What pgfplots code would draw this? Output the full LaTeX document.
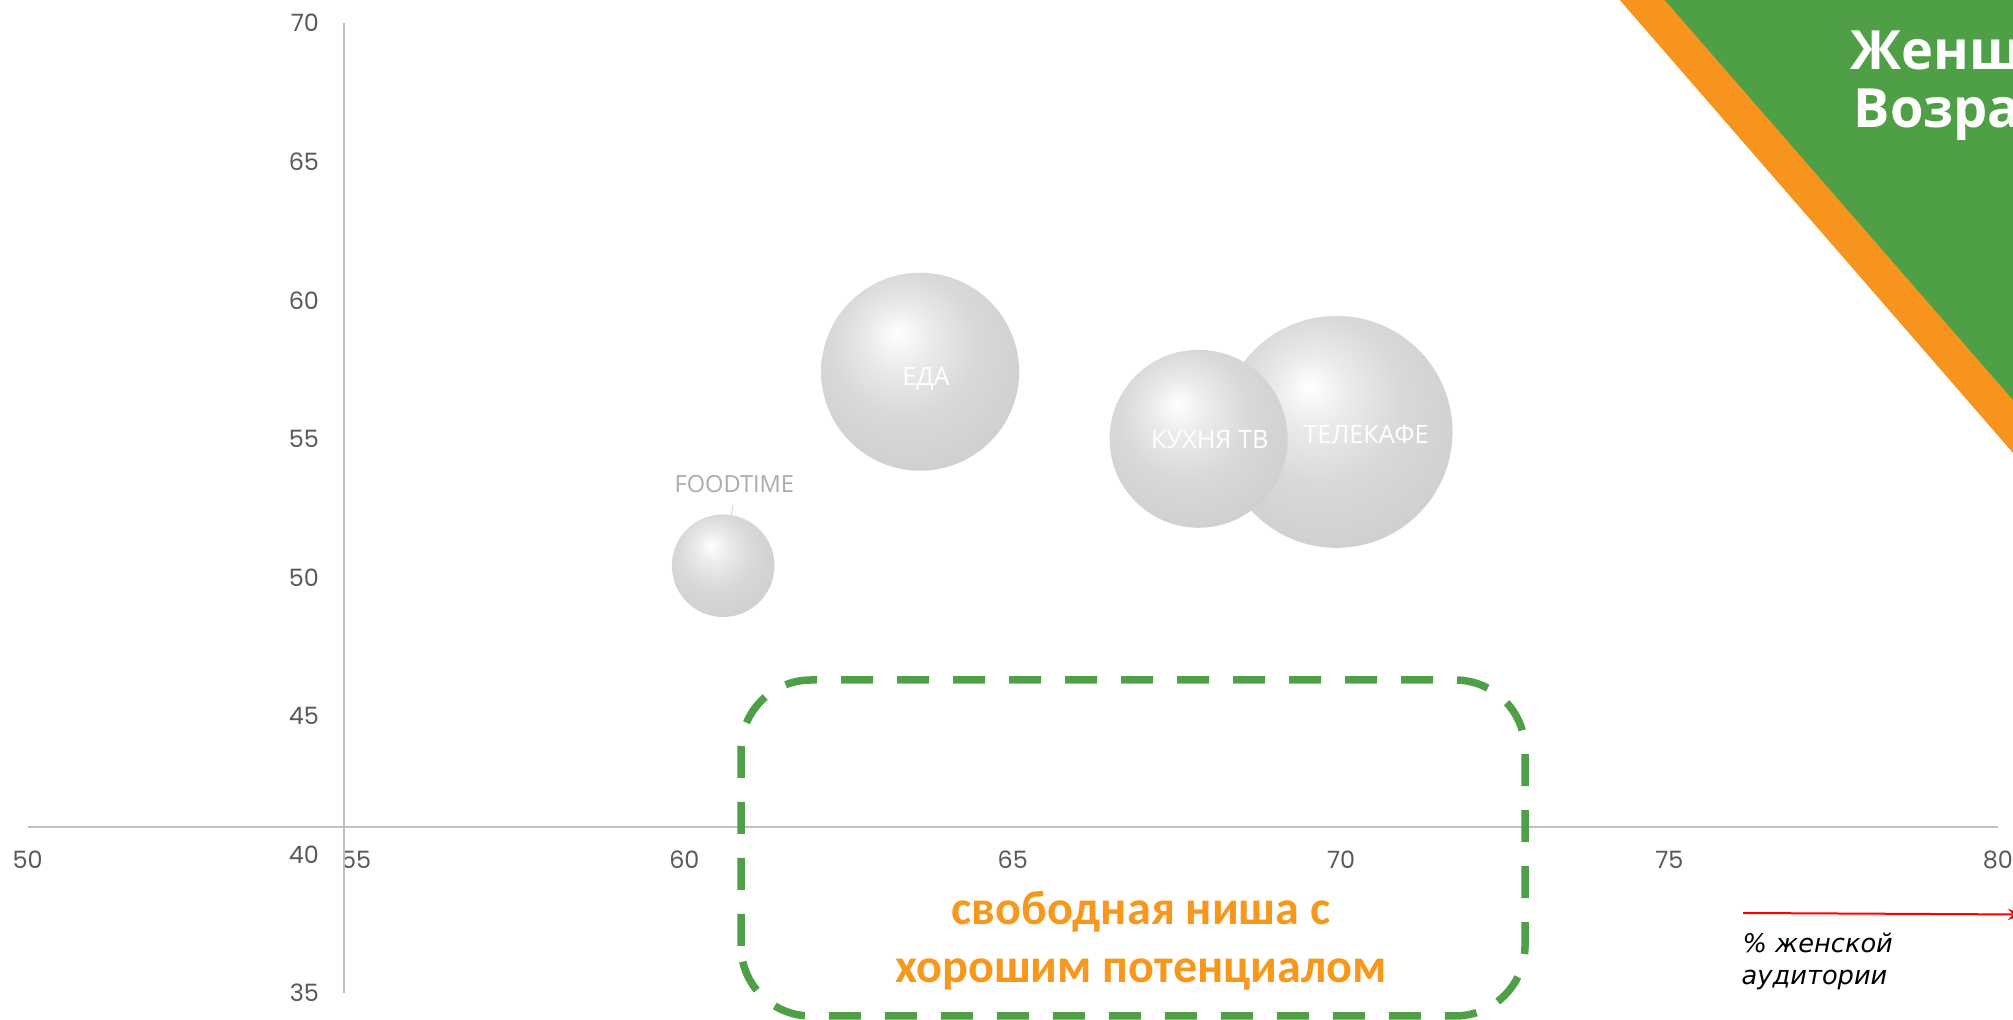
\documentclass[border=0pt]{standalone}
\usepackage{fontspec}
\setmainfont{Open Sans}
\newfontfamily\tickfont{Poppins}
\newfontfamily\nichefont{Carlito}
\newfontfamily\notefont{DejaVu Sans}
\usepackage{pgfplots}
\pgfplotsset{compat=1.18}
\usetikzlibrary{arrows.meta}

\definecolor{axisgray}{HTML}{BFBFBF}
\definecolor{tickgray}{HTML}{595959}
\definecolor{nichegreen}{HTML}{4E9F46}
\definecolor{nicheorange}{HTML}{F7981D}
\definecolor{bandorange}{HTML}{F7941D}
\definecolor{labelgray}{HTML}{ABABAB}

% soft grey "pearl" look of the bubbles
\pgfdeclareradialshading{bubble}{\pgfpoint{-6bp}{10bp}}{%
  color(0bp)=(white); color(8bp)=(white!92!black); color(18bp)=(white!85!black);
  color(32bp)=(white!81!black); color(44bp)=(white!77!black);
  color(51bp)=(white!72!black); color(56bp)=(white!79!black)}

\begin{document}
\begin{tikzpicture}
\path[use as bounding box] (0,0) rectangle (201.3mm,102mm);
\clip (0,0) rectangle (201.3mm,102mm);

% corner decoration
\fill[bandorange] (161.1mm,103mm) -- (202mm,55.9mm) -- (202mm,103mm) -- cycle;
\fill[nichegreen] (165.6mm,103mm) -- (202mm,61.2mm) -- (202mm,103mm) -- cycle;
\node[anchor=base west, inner sep=0pt, text=white,
      font=\bfseries\fontsize{15.4pt}{18pt}\selectfont] at (185mm,95mm) {Женщины};
\node[anchor=base west, inner sep=0pt, text=white,
      font=\bfseries\fontsize{15.4pt}{18pt}\selectfont] at (185.3mm,89.2mm) {Возраст};

\begin{axis}[
  at={(2.77mm,2.7mm)}, anchor=south west,
  x=6.567mm, y=2.771mm,
  xmin=50, xmax=80, ymin=35, ymax=70,
  axis lines=left,
  axis line style={draw=none,-},
  tick style={draw=none},
  major tick length=0pt,
  xtick={50,55,...,80},
  ytick={35,40,...,70},
  /pgf/number format/assume math mode=true,
  xticklabel style={anchor=center, yshift=13.3mm, text=tickgray,
                    font=\tickfont\fontsize{6.8pt}{8pt}\selectfont},
  yticklabel style={anchor=east, inner sep=0pt, xshift=29.2mm, text=tickgray,
                    font=\tickfont\fontsize{6.8pt}{8pt}\selectfont},
  clip=false,
]
\draw[axisgray, line width=0.17mm] (axis cs:54.82,35) -- (axis cs:54.82,70);
\draw[axisgray, line width=0.17mm] (axis cs:50,41) -- (axis cs:80,41);

% bubbles: x, y, diameter (mm)
\addplot[only marks, mark=*, mark size=0pt, mark options={draw=none,fill=none},
  visualization depends on={value \thisrow{d}\as\dia},
  nodes near coords={}, nodes near coords align=center,
  every node near coord/.style={circle, inner sep=0pt, minimum size=\dia mm,
                                shade, shading=bubble, anchor=center}]
table {
x     y     d
69.93 55.25 23.2
67.83 55.00 17.8
63.59 57.42 19.8
60.59 50.42 10.26
};

\draw[white!85!black, line width=0.1mm] (axis cs:60.74,52.62) -- (axis cs:60.59,50.45);

\addplot[only marks, mark=*, mark size=0pt, mark options={draw=none,fill=none},
  point meta=explicit symbolic, nodes near coords, nodes near coords align=center,
  every node near coord/.style={anchor=base, inner sep=0pt, text=white,
                                font=\fontsize{7.2pt}{8pt}\selectfont}]
table[col sep=comma, meta=label] {
x,y,label
63.68,56.91,ЕДА
68.00,54.66,КУХНЯ ТВ
70.38,54.82,ТЕЛЕКАФЕ
};

\addplot[only marks, mark=*, mark size=0pt, mark options={draw=none,fill=none},
  point meta=explicit symbolic, nodes near coords, nodes near coords align=center,
  every node near coord/.style={anchor=base, inner sep=0pt, text=labelgray,
                                font=\fontsize{6.7pt}{8pt}\selectfont}]
table[col sep=comma, meta=label] {
x,y,label
60.76,53.05,FOODTIME
};
\end{axis}

% free niche
\draw[nichegreen, line width=0.75mm, dash pattern=on 3.2mm off 2.4mm, rounded corners=7mm]
  (74.1mm,0.4mm) rectangle (152.5mm,34mm);
\node[anchor=base, inner sep=0pt, text=nicheorange,
      font=\nichefont\bfseries\fontsize{13.7pt}{16pt}\selectfont] at (114.1mm,9.5mm) {свободная ниша с};
\node[anchor=base, inner sep=0pt, text=nicheorange,
      font=\nichefont\bfseries\fontsize{13.7pt}{16pt}\selectfont] at (114.1mm,3.73mm) {хорошим потенциалом};

% x axis note
\draw[red, line width=0.2mm, -{Stealth[length=1.5mm]}] (174.3mm,10.7mm) -- (202.3mm,10.55mm);
\node[anchor=base west, inner sep=0pt,
      font=\notefont\itshape\fontsize{7.3pt}{8pt}\selectfont] at (174.2mm,6.7mm) {\% женской};
\node[anchor=base west, inner sep=0pt,
      font=\notefont\itshape\fontsize{7.3pt}{8pt}\selectfont] at (174.1mm,3.5mm) {аудитории};
\end{tikzpicture}
\end{document}
